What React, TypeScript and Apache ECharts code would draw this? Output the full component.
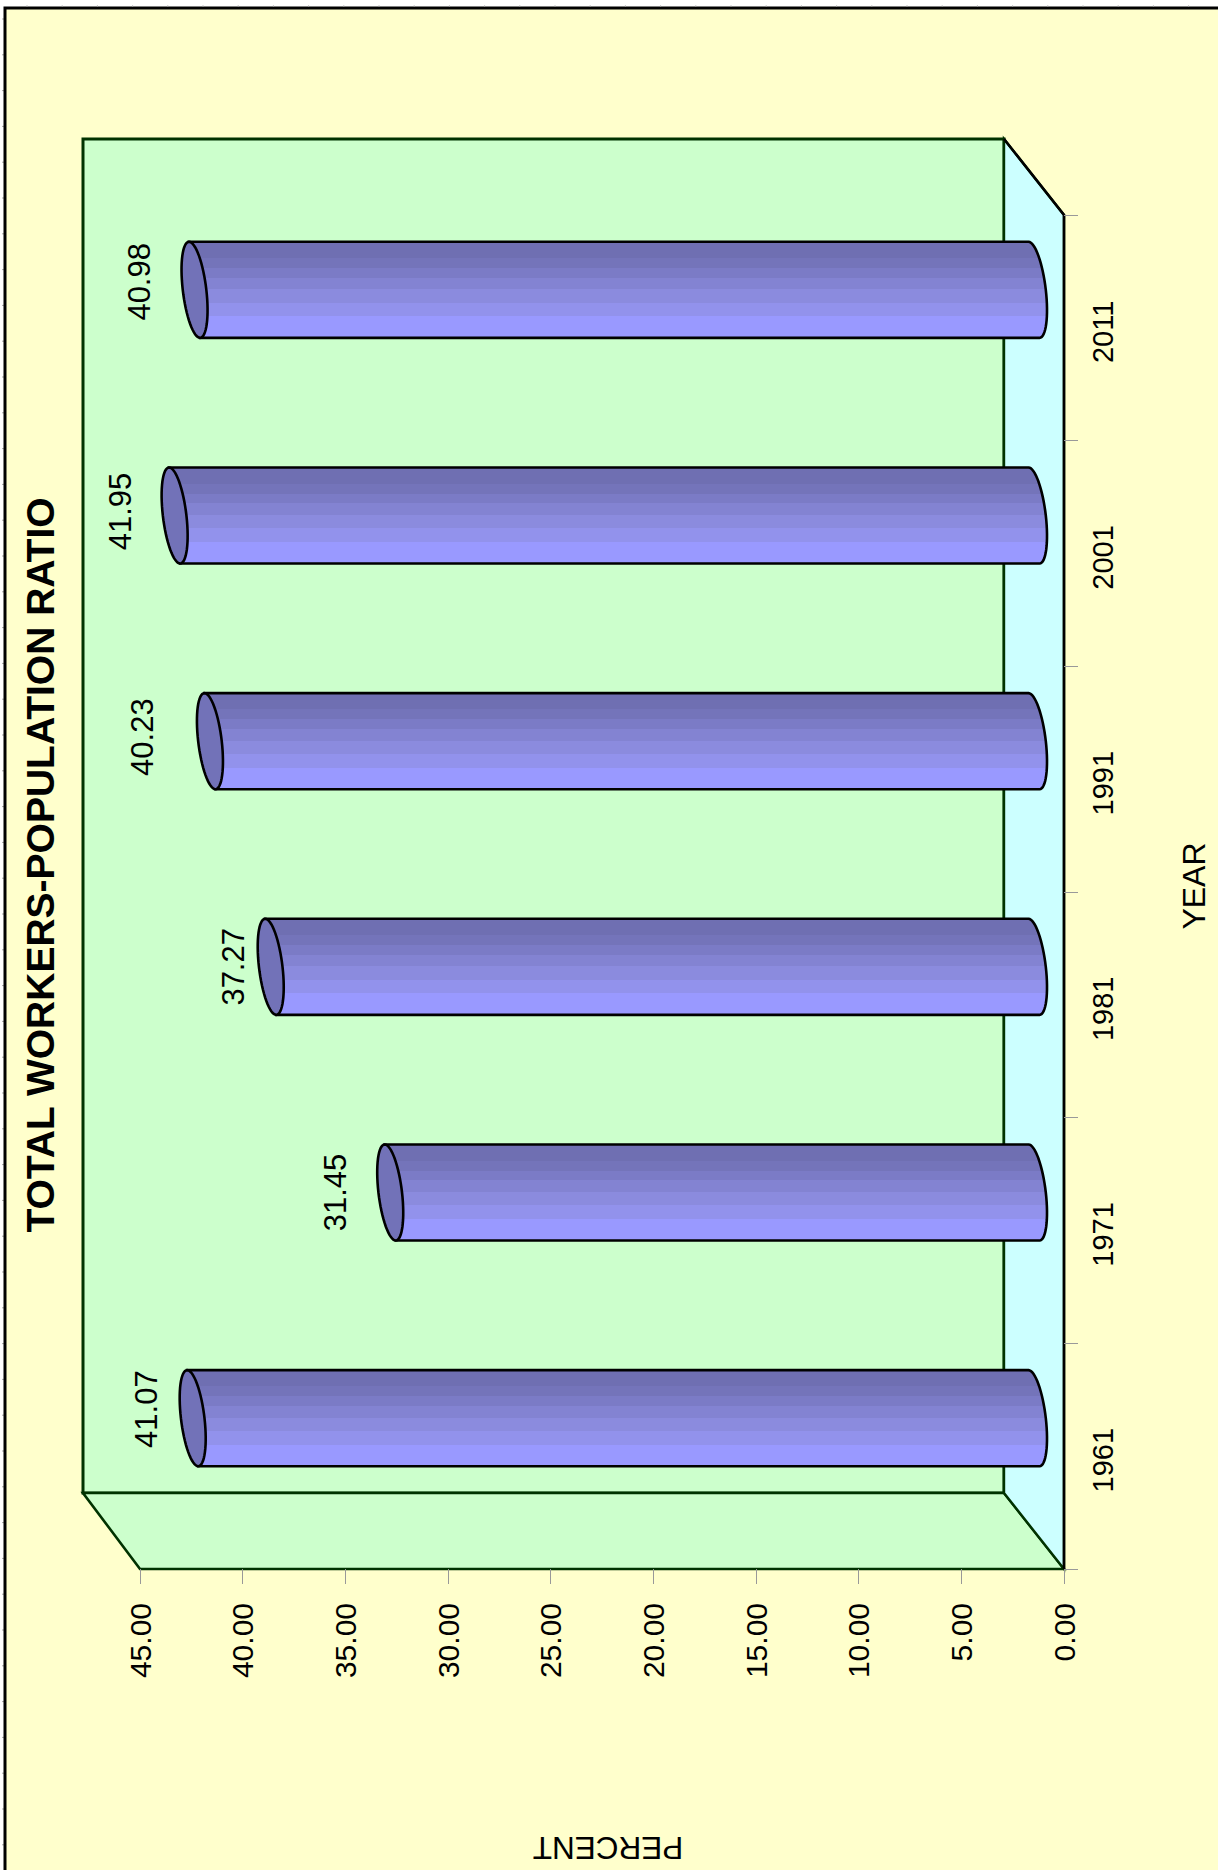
import React, { useEffect, useRef } from "react";
import * as echarts from "echarts";

const categories = ["1961", "1971", "1981", "1991", "2001", "2011"];
const ratios = [41.07, 31.45, 37.27, 40.23, 41.95, 40.98];
const valueTicks = [0, 5, 10, 15, 20, 25, 30, 35, 40, 45];

// hand-placed label nudges of the original chart, per category [along value axis, along category axis]
const labelNudgeX = [-46, -55, -37, -67, -54, -55];
const labelNudgeY = [-9, 0, 0, -4, -4, -8];

const BAND_COLORS = ["#6f6fb2", "#7474ba", "#7b7bc6", "#8383d2", "#8b8bde", "#9292ec", "#9999ff"];
const BAND_WEIGHTS = [0.167, 0.104, 0.104, 0.12, 0.14, 0.14, 0.225];
const CAP_COLOR = "#7272b8";

const LEFT = 140, RIGHT = 1064, TOP = 215, BOTTOM = 1569;
const DEPTH_X = 60, DEPTH_Y = 76;
const WALL_LEFT = 83;
const CAP_SHIFT = 2;
const FONT = '"Liberation Sans", Arial, sans-serif';
const DARK = "#003300";

function bandStops() {
  const stops: { offset: number; color: string }[] = [];
  let acc = 0;
  BAND_COLORS.forEach((color, i) => {
    stops.push({ offset: acc, color });
    acc += BAND_WEIGHTS[i];
    stops.push({ offset: Math.min(acc, 1), color });
  });
  return stops;
}

function ellipsePoint(cx: number, cy: number, rx: number, ry: number, skew: number, t: number) {
  return [cx + rx * Math.cos(t) + skew * Math.sin(t), cy + ry * Math.sin(t)];
}

function renderCylinder(params: any, api: any) {
  const idx = api.value(0);
  const v = api.value(1);
  const base = api.coord([0, idx]);
  const end = api.coord([v, idx]);
  const band = api.size([0, 1])[1];
  const ry = band * 0.2128;
  const rx = 11.8, skew = 5.5;
  const ox = -DEPTH_X / 2, oy = -DEPTH_Y / 2;
  const bx = base[0] + ox, ex = end[0] + ox + CAP_SHIFT, cy = base[1] + oy;

  const body: number[][] = [];
  const N = 32;
  for (let i = 0; i <= N; i++) {
    const t = -Math.PI / 2 + (Math.PI * i) / N;
    body.push(ellipsePoint(bx, cy, rx, ry, skew, t));
  }
  body.push(ellipsePoint(ex, cy, rx, ry, skew, Math.PI / 2));
  body.push(ellipsePoint(ex, cy, rx, ry, skew, -Math.PI / 2));

  const cap: number[][] = [];
  for (let i = 0; i < 2 * N; i++) {
    cap.push(ellipsePoint(ex, cy, rx, ry, skew, (Math.PI * i) / N));
  }

  return {
    type: "group",
    children: [
      {
        type: "polygon",
        shape: { points: body },
        style: {
          fill: new echarts.graphic.LinearGradient(0, 0, 0, 1, bandStops()),
          stroke: "#000",
          lineWidth: 2.6,
        },
      },
      {
        type: "polygon",
        shape: { points: cap },
        style: { fill: CAP_COLOR, stroke: "#000", lineWidth: 2.6 },
      },
      {
        type: "text",
        x: ex + labelNudgeX[idx],
        y: cy + labelNudgeY[idx],
        rotation: Math.PI / 2,
        style: {
          text: v.toFixed(2),
          font: `31px ${FONT}`,
          fill: "#000",
          align: "center",
          verticalAlign: "middle",
        },
      },
    ],
  };
}

function frameTicks() {
  const out: any[] = [];
  for (let x = 27; x < 1218; x += 35.2) {
    out.push({ type: "line", z: 0, shape: { x1: x, y1: 5.5, x2: x, y2: 7 }, style: { stroke: "#999", lineWidth: 1 } });
  }
  for (let y = 19; y < 1870; y += 35.8) {
    out.push({ type: "line", z: 0, shape: { x1: 2.5, y1: y, x2: 4, y2: y }, style: { stroke: "#555", lineWidth: 1 } });
  }
  return out;
}

export default function App() {
  const ref = useRef<HTMLDivElement>(null);
  useEffect(() => {
    const chart = echarts.init(ref.current!, undefined, { renderer: "svg" });
    chart.setOption({
      animation: false,
      backgroundColor: "#ffffff",
      grid: { left: LEFT, top: TOP, width: RIGHT - LEFT, height: BOTTOM - TOP, containLabel: false },
      xAxis: {
        type: "value",
        inverse: true,
        min: valueTicks[0],
        max: valueTicks[valueTicks.length - 1],
        interval: 5,
        position: "bottom",
        splitLine: { show: false },
        axisLine: { show: false },
        axisTick: { show: true, length: 15, lineStyle: { color: "#999999", width: 1 } },
        axisLabel: {
          rotate: 90,
          margin: 34,
          fontFamily: FONT,
          fontSize: 30,
          color: "#000",
          formatter: (v: number) => v.toFixed(2),
        },
      },
      yAxis: {
        type: "category",
        data: categories,
        position: "right",
        boundaryGap: true,
        splitLine: { show: false },
        axisLine: { show: false },
        axisTick: { show: true, length: 14, alignWithLabel: false, lineStyle: { color: "#999999", width: 1 } },
        axisLabel: {
          rotate: 90,
          margin: 24,
          padding: [0, 8, 0, 0],
          fontFamily: FONT,
          fontSize: 29,
          color: "#000",
          interval: 0,
        },
      },
      series: [
        {
          type: "custom",
          renderItem: renderCylinder,
          data: ratios.map((v, i) => [i, v]),
          encode: { x: 1, y: 0 },
          clip: false,
          z: 5,
        },
      ],
      graphic: {
        elements: [
          { type: "rect", z: -5, shape: { x: 5, y: 8, width: 1220, height: 1870 }, style: { fill: "#ffffcc", stroke: "#000", lineWidth: 3 } },
          ...frameTicks(),
          { type: "rect", z: -4, shape: { x: WALL_LEFT, y: TOP - DEPTH_Y, width: RIGHT - DEPTH_X - WALL_LEFT, height: BOTTOM - TOP }, style: { fill: "#ccffcc", stroke: DARK, lineWidth: 3 } },
          { type: "polygon", z: -3, shape: { points: [[WALL_LEFT, BOTTOM - DEPTH_Y], [RIGHT - DEPTH_X, BOTTOM - DEPTH_Y], [RIGHT, BOTTOM], [LEFT, BOTTOM]] }, style: { fill: "#ccffcc", stroke: DARK, lineWidth: 2.6, lineJoin: "miter" } },
          { type: "polygon", z: -3, shape: { points: [[RIGHT - DEPTH_X, TOP - DEPTH_Y], [RIGHT, TOP], [RIGHT, BOTTOM], [RIGHT - DEPTH_X, BOTTOM - DEPTH_Y]] }, style: { fill: "#ccffff", stroke: DARK, lineWidth: 2.4 } },
          { type: "polyline", z: -2, shape: { points: [[RIGHT - DEPTH_X, TOP - DEPTH_Y], [RIGHT, TOP], [RIGHT, BOTTOM]] }, style: { fill: "none", stroke: "#000", lineWidth: 2.6 } },
          { type: "text", z: 10, x: 40, y: 865, rotation: Math.PI / 2, style: { text: "TOTAL WORKERS-POPULATION RATIO", font: `bold 39px ${FONT}`, fill: "#000", align: "center", verticalAlign: "middle" } },
          { type: "text", z: 10, x: 1194, y: 886, rotation: Math.PI / 2, style: { text: "YEAR", font: `32px ${FONT}`, fill: "#000", align: "center", verticalAlign: "middle" } },
          { type: "text", z: 10, x: 608, y: 1848, rotation: Math.PI, style: { text: "PERCENT", font: `31.5px ${FONT}`, fill: "#000", align: "center", verticalAlign: "middle" } },
        ],
      },
    });
    return () => chart.dispose();
  }, []);
  return <div ref={ref} style={{ position: "absolute", left: 0, top: 0, width: 1218, height: 1870 }} />;
}
